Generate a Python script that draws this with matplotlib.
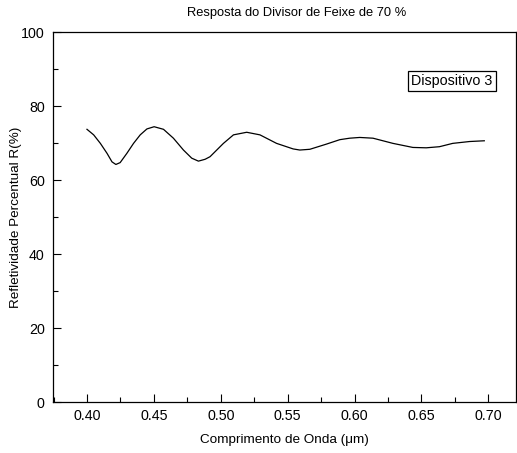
import matplotlib
matplotlib.use("Agg")
import matplotlib.pyplot as plt
from matplotlib.ticker import MultipleLocator, FormatStrFormatter

plt.rcParams['font.family'] = ['Liberation Sans', 'DejaVu Sans']

wavelength = [0.400, 0.405, 0.410, 0.415, 0.4187, 0.4216, 0.4248, 0.4298, 0.4348,
              0.4398, 0.4448, 0.4502, 0.4572, 0.4646, 0.4721, 0.4783, 0.4833,
              0.4883, 0.4920, 0.4945, 0.5020, 0.5095, 0.5194, 0.5293, 0.5417,
              0.5541, 0.5591, 0.5666, 0.5790, 0.5890, 0.5964, 0.6039, 0.6138,
              0.6287, 0.6436, 0.6536, 0.6635, 0.6734, 0.6860, 0.6970]
reflect = [73.7, 72.2, 69.9, 67.2, 64.9, 64.2, 64.7, 67.2, 69.9,
           72.2, 73.8, 74.4, 73.7, 71.3, 68.1, 65.9, 65.1,
           65.6, 66.3, 67.2, 69.9, 72.2, 72.9, 72.2, 69.9,
           68.4, 68.1, 68.3, 69.7, 70.9, 71.3, 71.5, 71.3,
           69.9, 68.8, 68.7, 69.0, 69.9, 70.4, 70.6]

xticks = [0.40, 0.45, 0.50, 0.55, 0.60, 0.65, 0.70]
yticks = [0, 20, 40, 60, 80, 100]

fig = plt.figure(figsize=(5.17, 4.53), dpi=100)
ax = fig.add_axes([53/517, 1-402/453, (516-53)/517, (402-32)/453])
ax.plot(wavelength, reflect, color='black', lw=0.9)

ax.set_xlim(0.3746, 0.7207)
ax.set_ylim(0, 100)
ax.set_xticks(xticks)
ax.set_yticks(yticks)
ax.xaxis.set_major_formatter(FormatStrFormatter('%.2f'))
ax.xaxis.set_minor_locator(MultipleLocator(0.025))
ax.yaxis.set_minor_locator(MultipleLocator(10))
ax.tick_params(which='both', direction='in', top=False, right=False, labelsize=10.3, width=0.8)
ax.tick_params(which='major', length=6)
ax.tick_params(which='minor', length=3.5)
ax.tick_params(axis='x', pad=5)
ax.tick_params(axis='y', pad=6)
for s in ax.spines.values():
    s.set_linewidth(0.9)

ax.set_xlabel('Comprimento de Onda (\u03bcm)', fontsize=9.7)
ax.xaxis.set_label_coords(0.5, -(434-402)/370)
ax.set_ylabel('Refletividade Percentual R(%)', fontsize=9.7)
ax.yaxis.set_label_coords(-(53-22)/463, 0.5)
fig.text(297/517, 1-13/453, 'Resposta do Divisor de Feixe de 70 %', ha='center', va='center', fontsize=9.3)

ax.text(0.862, 0.868, 'Dispositivo 3', transform=ax.transAxes, ha='center', va='center',
        fontsize=10.3, bbox=dict(boxstyle='square,pad=0.22', fc='white', ec='black', lw=0.9))

fig.savefig('out.png', dpi=100)
